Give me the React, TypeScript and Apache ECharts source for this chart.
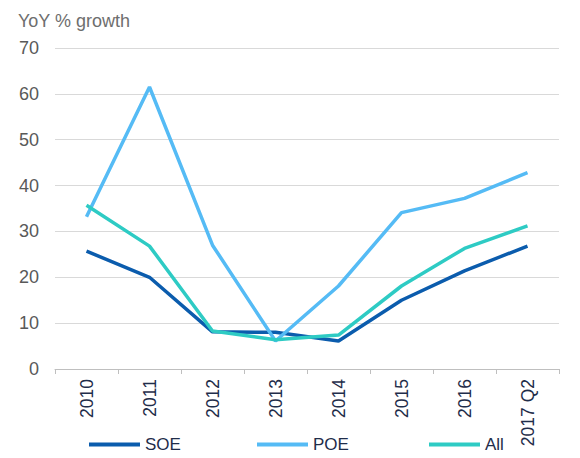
import React, { useEffect, useRef } from "react";
import * as echarts from "echarts";

const categories = ["2010", "2011", "2012", "2013", "2014", "2015", "2016", "2017 Q2"];
const soe = [25.7, 20.0, 8.1, 8.0, 6.1, 15.0, 21.4, 26.8];
const poe = [33.2, 61.5, 27.0, 6.1, 18.1, 34.1, 37.2, 42.8];
const all = [35.7, 26.8, 8.3, 6.4, 7.4, 18.1, 26.3, 31.2];
const seriesNames = ["SOE", "POE", "All"];
const colors = ["#0B5CAD", "#55BBF5", "#2ECBC4"];

export default function App() {
  const ref = useRef<HTMLDivElement>(null);
  useEffect(() => {
    const chart = echarts.init(ref.current!, null, { renderer: "svg" });
    const font = "Liberation Sans, Arial, sans-serif";
    const legendLefts = [89, 257, 429];
    const data = [soe, poe, all];
    chart.setOption({
      animation: false,
      title: {
        text: "YoY % growth",
        left: 13,
        top: 7,
        textStyle: { fontFamily: font, fontSize: 18, fontWeight: "normal", color: "#6E6E6E" },
      },
      legend: seriesNames.map((n, i) => ({
        data: [n],
        left: legendLefts[i],
        top: 436,
        padding: 0,
        icon: "rect",
        itemWidth: 51,
        itemHeight: 4,
        itemGap: 5,
        textStyle: { fontFamily: font, fontSize: 17, color: "#1F2D4A" },
      })),
      grid: { left: 55, right: 21, top: 48, bottom: 89 },
      xAxis: {
        type: "category",
        data: categories,
        axisLine: { lineStyle: { color: "#BFBFBF", width: 1 } },
        axisTick: { show: true, length: 5, lineStyle: { color: "#BFBFBF" } },
        axisLabel: {
          rotate: 90,
          margin: 10,
          fontFamily: font,
          fontSize: 17.5,
          color: "#1F2D4A",
          interval: 0,
        },
      },
      yAxis: {
        type: "value",
        min: 0,
        max: 70,
        interval: 10,
        axisLine: { show: false },
        axisTick: { show: false },
        axisLabel: { fontFamily: font, fontSize: 18, color: "#595959", margin: 16 },
        splitLine: { lineStyle: { color: "#D9D9D9", width: 1 } },
      },
      series: seriesNames.map((n, i) => ({
        name: n,
        type: "line",
        data: data[i],
        symbol: "none",
        lineStyle: { color: colors[i], width: 3.5 },
        itemStyle: { color: colors[i] },
      })),
    });
    return () => chart.dispose();
  }, []);
  return <div ref={ref} style={{ width: 580, height: 458, position: "absolute", left: 0, top: 0 }} />;
}
